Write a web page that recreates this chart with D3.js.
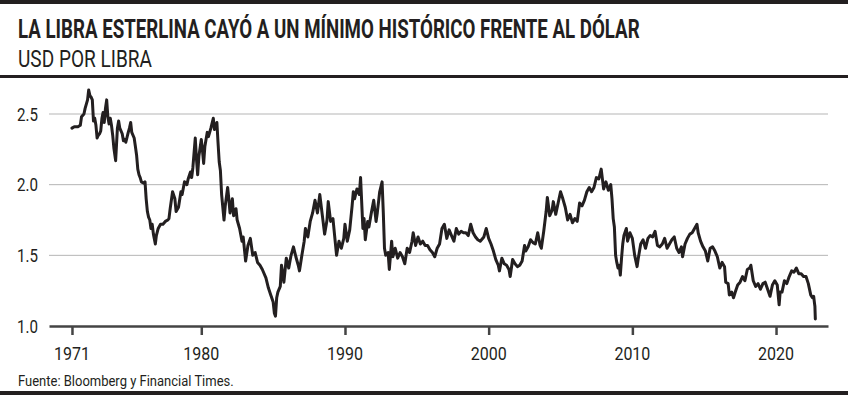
<!DOCTYPE html>
<html>
<head>
<meta charset="utf-8">
<script src="https://cdn.jsdelivr.net/npm/d3@7"></script>
<style>
  html, body { margin: 0; padding: 0; background: #fff; }
  svg { display: block; }
  text { font-family: Roboto, "Noto Sans", sans-serif; fill: #231f20; }
</style>
</head>
<body>
<svg id="chart" width="848" height="395"></svg>
<script>
// ---- Data ----
const title = "LA LIBRA ESTERLINA CAYÓ A UN MÍNIMO HISTÓRICO FRENTE AL DÓLAR";
const subtitle = "USD POR LIBRA";
const source = "Fuente: Bloomberg y Financial Times.";

const dates = [
"1971-01-01","1971-03-01","1971-06-01","1971-08-01","1971-09-01","1971-11-01","1971-12-01",
"1972-02-01","1972-03-01","1972-04-01","1972-05-01","1972-06-01","1972-07-01","1972-08-01","1972-09-01","1972-10-01","1972-11-01","1972-12-01",
"1973-01-01","1973-02-01","1973-03-01","1973-04-01","1973-05-01","1973-06-01","1973-07-01","1973-08-01","1973-09-01","1973-10-01","1973-11-01","1973-12-01",
"1974-01-15","1974-03-01","1974-04-01","1974-05-01","1974-07-01","1974-08-01","1974-09-01","1974-10-01","1974-12-01",
"1975-01-01","1975-02-01","1975-03-01","1975-05-01","1975-06-01","1975-07-01","1975-08-01","1975-09-01","1975-10-01","1975-11-01",
"1976-01-01","1976-02-01","1976-03-01","1976-04-01","1976-05-01","1976-06-01","1976-07-01","1976-08-01","1976-09-01","1976-10-20","1976-11-15",
"1977-01-01","1977-03-01","1977-05-01","1977-07-01","1977-09-01","1977-10-01","1977-11-01",
"1978-01-01","1978-03-01","1978-04-01","1978-06-01","1978-08-01","1978-09-01","1978-11-01",
"1979-01-01","1979-02-01","1979-04-01","1979-05-01","1979-06-01","1979-08-01","1979-09-01","1979-10-01","1979-11-01",
"1980-01-01","1980-02-01","1980-03-01","1980-04-01","1980-06-01","1980-07-01","1980-09-01","1980-11-01","1980-12-01",
"1981-02-01","1981-03-01","1981-04-01","1981-05-01","1981-06-01","1981-08-01","1981-09-01","1981-11-01","1981-12-01",
"1982-01-01","1982-03-01","1982-04-01","1982-06-01","1982-07-01","1982-09-01","1982-11-01","1982-12-01",
"1983-02-01","1983-04-01","1983-06-01","1983-08-01","1983-10-01","1983-12-01",
"1984-02-01","1984-04-01","1984-05-01","1984-07-01","1984-09-01","1984-11-01",
"1985-01-01","1985-02-01","1985-03-01","1985-04-01","1985-05-01","1985-07-01","1985-08-01","1985-10-01","1985-12-01",
"1986-02-01","1986-04-01","1986-06-01","1986-08-01","1986-10-01","1986-11-01",
"1987-01-01","1987-03-01","1987-04-01","1987-06-01","1987-08-01","1987-10-01","1987-12-01",
"1988-02-01","1988-04-01","1988-06-01","1988-08-01","1988-10-01","1988-11-01",
"1989-01-01","1989-03-01","1989-06-01","1989-08-01","1989-10-01","1989-12-01",
"1990-01-01","1990-03-01","1990-05-01","1990-07-01","1990-08-01","1990-09-01","1990-11-01",
"1991-01-01","1991-02-01","1991-04-01","1991-05-01","1991-06-01","1991-08-01","1991-09-01","1991-11-01",
"1992-01-01","1992-03-01","1992-04-01","1992-06-01","1992-08-01","1992-09-01","1992-10-01","1992-11-01",
"1993-01-01","1993-02-01","1993-04-01","1993-05-01","1993-07-01","1993-09-01","1993-11-01",
"1994-01-01","1994-03-01","1994-05-01","1994-07-01","1994-09-01","1994-10-01","1994-12-01",
"1995-02-01","1995-04-01","1995-06-01","1995-08-01","1995-10-01","1995-12-01",
"1996-02-01","1996-04-01","1996-06-01","1996-08-01","1996-10-01","1996-12-01",
"1997-02-01","1997-04-01","1997-06-01","1997-08-01","1997-10-01","1997-12-01",
"1998-02-01","1998-04-01","1998-06-01","1998-08-01","1998-10-01","1998-12-01",
"1999-02-01","1999-04-01","1999-06-01","1999-09-01","1999-11-01",
"2000-01-01","2000-03-01","2000-05-01","2000-07-01","2000-09-01","2000-10-01","2000-12-01",
"2001-02-01","2001-04-01","2001-06-01","2001-07-01","2001-09-01","2001-11-01",
"2002-01-01","2002-03-01","2002-05-01","2002-07-01","2002-08-01","2002-10-01","2002-12-01",
"2003-02-01","2003-04-01","2003-06-01","2003-08-01","2003-09-01","2003-11-01",
"2004-01-01","2004-02-01","2004-04-01","2004-06-01","2004-07-01","2004-09-01","2004-11-01",
"2005-01-01","2005-03-01","2005-05-01","2005-07-01","2005-09-01","2005-11-01",
"2006-01-01","2006-03-01","2006-05-01","2006-07-01","2006-09-01","2006-11-01",
"2007-01-01","2007-03-01","2007-05-01","2007-07-01","2007-09-01","2007-11-01",
"2008-01-01","2008-03-01","2008-05-01","2008-07-01","2008-08-01","2008-09-01","2008-10-01","2008-11-01","2008-12-01",
"2009-01-01","2009-02-01","2009-03-01","2009-04-01","2009-05-01","2009-06-01","2009-08-01","2009-09-01","2009-11-01",
"2010-01-01","2010-03-01","2010-05-01","2010-06-01","2010-08-01","2010-10-01","2010-12-01",
"2011-02-01","2011-04-01","2011-06-01","2011-08-01","2011-10-01","2011-12-01",
"2012-02-01","2012-04-01","2012-06-01","2012-08-01","2012-10-01","2012-12-01",
"2013-02-01","2013-04-01","2013-06-01","2013-07-01","2013-09-01","2013-11-01",
"2014-01-01","2014-03-01","2014-05-01","2014-07-01","2014-08-01","2014-10-01","2014-12-01",
"2015-02-01","2015-04-01","2015-06-01","2015-08-01","2015-10-01","2015-12-01",
"2016-02-01","2016-04-01","2016-06-01","2016-07-01","2016-09-01","2016-10-01","2016-12-01",
"2017-01-15","2017-03-01","2017-05-01","2017-07-01","2017-09-01","2017-11-01",
"2018-01-01","2018-03-01","2018-04-01","2018-06-01","2018-08-01","2018-10-01","2018-12-01",
"2019-02-01","2019-04-01","2019-06-01","2019-08-01","2019-10-01","2019-12-01",
"2020-02-01","2020-03-20","2020-04-15","2020-06-01","2020-08-01","2020-10-01","2020-12-01",
"2021-02-01","2021-04-01","2021-06-01","2021-08-01","2021-10-01","2021-12-01",
"2022-02-01","2022-04-01","2022-06-01","2022-07-15","2022-08-15","2022-09-05","2022-09-15","2022-09-26"
];

const usdPerGbp = [
2.40,2.41,2.41,2.42,2.48,2.50,2.54,
2.60,2.67,2.63,2.62,2.60,2.45,2.47,2.42,2.33,2.35,2.36,
2.38,2.47,2.51,2.44,2.54,2.60,2.48,2.43,2.47,2.42,2.35,2.26,
2.17,2.40,2.45,2.40,2.36,2.31,2.32,2.30,2.37,
2.40,2.44,2.37,2.33,2.27,2.21,2.11,2.07,2.05,2.02,
2.01,2.02,1.90,1.81,1.77,1.75,1.69,1.72,1.65,1.58,1.64,
1.69,1.72,1.72,1.74,1.75,1.76,1.83,
1.95,1.90,1.81,1.84,1.95,1.93,2.02,
2.00,2.04,2.09,2.05,2.12,2.33,2.18,2.07,2.20,
2.32,2.24,2.15,2.27,2.37,2.34,2.40,2.47,2.39,
2.44,2.30,2.16,2.10,1.93,1.75,1.85,1.98,1.90,
1.80,1.90,1.78,1.83,1.75,1.69,1.60,1.63,
1.46,1.57,1.62,1.50,1.52,1.45,
1.43,1.40,1.38,1.34,1.27,1.22,
1.17,1.09,1.07,1.20,1.24,1.28,1.43,1.31,1.48,
1.41,1.50,1.56,1.49,1.43,1.39,
1.50,1.60,1.69,1.63,1.74,1.80,1.89,
1.80,1.93,1.79,1.65,1.75,1.88,
1.74,1.76,1.50,1.60,1.55,1.62,
1.72,1.60,1.68,1.85,1.95,1.90,1.97,
1.93,2.05,1.69,1.76,1.61,1.74,1.70,1.80,
1.89,1.74,1.80,1.95,2.02,1.80,1.55,1.50,
1.52,1.40,1.60,1.49,1.55,1.48,1.52,
1.49,1.44,1.55,1.52,1.60,1.66,1.57,
1.63,1.58,1.60,1.57,1.57,1.54,
1.52,1.49,1.55,1.58,1.69,1.72,
1.62,1.68,1.64,1.60,1.69,1.65,
1.67,1.66,1.66,1.64,1.72,1.66,
1.63,1.61,1.60,1.63,1.69,
1.62,1.58,1.53,1.47,1.43,1.39,1.48,
1.44,1.43,1.40,1.35,1.47,1.44,
1.42,1.43,1.46,1.57,1.53,1.56,1.61,
1.59,1.58,1.66,1.57,1.55,1.67,
1.81,1.91,1.78,1.82,1.88,1.79,1.87,
1.95,1.90,1.84,1.75,1.79,1.73,
1.76,1.74,1.87,1.85,1.89,1.95,
1.98,1.95,1.98,2.05,2.04,2.11,
1.97,2.02,1.96,2.00,1.90,1.76,1.70,1.50,1.45,
1.41,1.43,1.36,1.48,1.58,1.64,1.69,1.60,1.66,
1.62,1.50,1.42,1.48,1.58,1.61,1.55,
1.62,1.64,1.63,1.67,1.57,1.56,
1.58,1.62,1.55,1.58,1.61,1.63,
1.55,1.52,1.56,1.49,1.58,1.62,
1.65,1.66,1.69,1.72,1.66,1.60,1.56,
1.53,1.46,1.55,1.56,1.53,1.49,
1.41,1.45,1.42,1.31,1.30,1.22,1.24,
1.20,1.24,1.29,1.31,1.35,1.32,
1.40,1.41,1.43,1.32,1.28,1.30,1.26,
1.30,1.31,1.26,1.21,1.29,1.32,
1.29,1.15,1.24,1.24,1.32,1.30,1.35,
1.39,1.38,1.41,1.37,1.37,1.35,
1.35,1.30,1.22,1.20,1.21,1.16,1.14,1.05
];

const yTicks = [1.0, 1.5, 2.0, 2.5];
const xTickYears = [1971, 1980, 1990, 2000, 2010, 2020];
const xDomain = ["1969-05-27", "2023-08-14"];
const yDomain = [1.0, 2.5];

// ---- Layout ----
const W = 848, H = 395;
const plot = { left: 49, right: 828, top: 114, bottom: 326 };
const ink = "#231f20";

const svg = d3.select("#chart");
const parse = d3.timeParse("%Y-%m-%d");
const series = dates.map((d, i) => ({ date: parse(d), value: usdPerGbp[i] }));

const x = d3.scaleTime().domain(xDomain.map(parse)).range([plot.left, plot.right]);
const y = d3.scaleLinear().domain(yDomain).range([plot.bottom, plot.top]);

// Condensed-looking text: draw at (0,0), then translate + squeeze horizontally.
function condensed(parent, str, px, py, size, width, weight, anchor) {
  const t = parent.append("text").attr("font-size", size)
    .attr("font-weight", weight || "normal").text(str);
  const natural = t.node().getComputedTextLength();
  const sx = Math.min(1, width / natural);
  const a = anchor || "start";
  t.attr("text-anchor", a);
  t.attr("transform", `translate(${px},${py}) scale(${sx},1)`);
  return t;
}

// top & bottom bars, separator rule
svg.append("rect").attr("x", 0).attr("y", 0).attr("width", W).attr("height", 4).attr("fill", ink);
svg.append("rect").attr("x", 0).attr("y", 75).attr("width", W).attr("height", 3).attr("fill", ink);
svg.append("rect").attr("x", 0).attr("y", 391).attr("width", W).attr("height", 4).attr("fill", ink);

// titles
condensed(svg, title, 18, 38, 25, 622, "bold");
condensed(svg, subtitle, 18, 67, 23, 134);

// gridlines
svg.append("g").selectAll("line").data(yTicks.filter(v => v > yDomain[0])).join("line")
  .attr("x1", plot.left).attr("x2", plot.right)
  .attr("y1", d => y(d)).attr("y2", d => y(d))
  .attr("stroke", "#b5b5b5").attr("stroke-width", 1);

// y labels
const gy = svg.append("g");
yTicks.forEach(v => condensed(gy, v.toFixed(1), 17, y(v) + 6.5, 18, 21));

// x axis (ticks and domain through d3.axisBottom; labels condensed)
const xAxis = d3.axisBottom(x)
  .tickValues(xTickYears.map(yr => new Date(yr, 0, 1)))
  .tickFormat("")
  .tickSize(9).tickSizeOuter(0);
const gx = svg.append("g").attr("transform", `translate(0,${plot.bottom})`).call(xAxis);
gx.select(".domain").attr("stroke", "#444").attr("stroke-width", 2.5);
gx.selectAll(".tick line").attr("stroke", "#444").attr("stroke-width", 2.5);
const fmt = d3.timeFormat("%Y");
const gxl = svg.append("g");
xTickYears.forEach(yr => {
  const d = new Date(yr, 0, 1);
  condensed(gxl, fmt(d), x(d), 360, 18, 36, "normal", "middle");
});

// line
const line = d3.line().x(d => x(d.date)).y(d => y(d.value)).curve(d3.curveLinear);
svg.append("path").datum(series)
  .attr("d", line).attr("fill", "none")
  .attr("stroke", ink).attr("stroke-width", 3)
  .attr("stroke-linejoin", "round").attr("stroke-linecap", "round");

// source
condensed(svg, source, 18, 386, 15, 216);
</script>
</body>
</html>
